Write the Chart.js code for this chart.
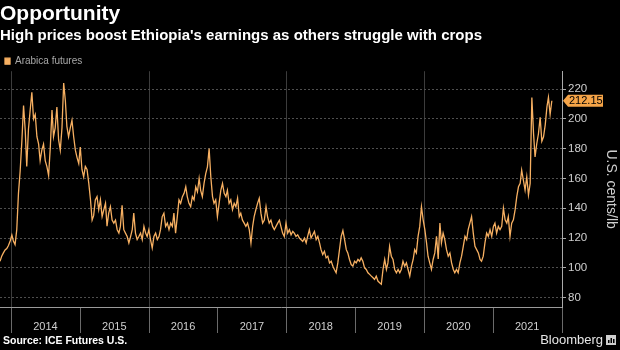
<!DOCTYPE html>
<html>
<head>
<meta charset="utf-8">
<script src="https://cdn.jsdelivr.net/npm/chart.js@4.4.0/dist/chart.umd.min.js"></script>
<style>
  html, body { margin: 0; padding: 0; background: #000; }
  canvas { display: block; }
</style>
</head>
<body>
<canvas id="chart" width="620" height="350"></canvas>
<script>
// sample dates (roughly every 9 days)
const dates = [
  '2013-11-01','2013-11-10','2013-11-19','2013-11-28','2013-12-07','2013-12-16','2013-12-25',
  '2014-01-03','2014-01-11','2014-01-20','2014-01-29','2014-02-07','2014-02-16','2014-02-25','2014-03-06','2014-03-15','2014-03-23',
  '2014-04-01','2014-04-10','2014-04-19','2014-04-28','2014-05-07','2014-05-16','2014-05-25','2014-06-02','2014-06-11','2014-06-20',
  '2014-06-29','2014-07-08','2014-07-17','2014-07-26','2014-08-04','2014-08-12','2014-08-21','2014-08-30','2014-09-08','2014-09-17',
  '2014-09-26','2014-10-05','2014-10-14','2014-10-22','2014-10-31','2014-11-09','2014-11-18','2014-11-27','2014-12-06','2014-12-15','2014-12-24',
  '2015-01-01','2015-01-10','2015-01-19','2015-01-28','2015-02-06','2015-02-15','2015-02-24','2015-03-05','2015-03-13','2015-03-22',
  '2015-03-31','2015-04-09','2015-04-18','2015-04-27','2015-05-06','2015-05-15','2015-05-23','2015-06-01','2015-06-10','2015-06-19',
  '2015-06-28','2015-07-07','2015-07-16','2015-07-25','2015-08-02','2015-08-11','2015-08-20','2015-08-29','2015-09-07','2015-09-16',
  '2015-09-25','2015-10-04','2015-10-12','2015-10-21','2015-10-30','2015-11-08','2015-11-17','2015-11-26','2015-12-05','2015-12-14','2015-12-22','2015-12-31',
  '2016-01-09','2016-01-18','2016-01-27','2016-02-05','2016-02-14','2016-02-23','2016-03-02','2016-03-11','2016-03-20','2016-03-29',
  '2016-04-07','2016-04-16','2016-04-25','2016-05-04','2016-05-12','2016-05-21','2016-05-30','2016-06-08','2016-06-17','2016-06-26',
  '2016-07-05','2016-07-14','2016-07-22','2016-07-31','2016-08-09','2016-08-18','2016-08-27','2016-09-05','2016-09-14','2016-09-23',
  '2016-10-01','2016-10-10','2016-10-19','2016-10-28','2016-11-06','2016-11-15','2016-11-24','2016-12-03','2016-12-11','2016-12-20','2016-12-29',
  '2017-01-07','2017-01-16','2017-01-25','2017-02-03','2017-02-12','2017-02-20','2017-03-01','2017-03-10','2017-03-19','2017-03-28',
  '2017-04-06','2017-04-15','2017-04-24','2017-05-02','2017-05-11','2017-05-20','2017-05-29','2017-06-07','2017-06-16','2017-06-25',
  '2017-07-04','2017-07-12','2017-07-21','2017-07-30','2017-08-08','2017-08-17','2017-08-26','2017-09-04','2017-09-13','2017-09-21',
  '2017-09-30','2017-10-09','2017-10-18','2017-10-27','2017-11-05','2017-11-14','2017-11-23','2017-12-01','2017-12-10','2017-12-19','2017-12-28',
  '2018-01-06','2018-01-15','2018-01-24','2018-02-02','2018-02-10','2018-02-19','2018-02-28','2018-03-09','2018-03-18','2018-03-27',
  '2018-04-05','2018-04-14','2018-04-22','2018-05-01','2018-05-10','2018-05-19','2018-05-28','2018-06-06','2018-06-15','2018-06-24',
  '2018-07-02','2018-07-11','2018-07-20','2018-07-29','2018-08-07','2018-08-16','2018-08-25','2018-09-03','2018-09-11','2018-09-20',
  '2018-09-29','2018-10-08','2018-10-17','2018-10-26','2018-11-04','2018-11-13','2018-11-21','2018-11-30','2018-12-09','2018-12-18','2018-12-27',
  '2019-01-05','2019-01-14','2019-01-23','2019-01-31','2019-02-09','2019-02-18','2019-02-27','2019-03-08','2019-03-17','2019-03-26',
  '2019-04-04','2019-04-12','2019-04-21','2019-04-30','2019-05-09','2019-05-18','2019-05-27','2019-06-05','2019-06-14','2019-06-22',
  '2019-07-01','2019-07-10','2019-07-19','2019-07-28','2019-08-06','2019-08-15','2019-08-24','2019-09-01','2019-09-10','2019-09-19',
  '2019-09-28','2019-10-07','2019-10-16','2019-10-25','2019-11-03','2019-11-11','2019-11-20','2019-11-29','2019-12-08','2019-12-17','2019-12-26',
  '2020-01-04','2020-01-13','2020-01-21','2020-01-30','2020-02-08','2020-02-17','2020-02-26','2020-03-06','2020-03-15','2020-03-24',
  '2020-04-01','2020-04-10','2020-04-19','2020-04-28','2020-05-07','2020-05-16','2020-05-25','2020-06-03','2020-06-11','2020-06-20',
  '2020-06-29','2020-07-08','2020-07-17','2020-07-26','2020-08-04','2020-08-13','2020-08-21','2020-08-30','2020-09-08','2020-09-17',
  '2020-09-26','2020-10-05','2020-10-14','2020-10-23','2020-10-31','2020-11-09','2020-11-18','2020-11-27','2020-12-06','2020-12-15','2020-12-24',
  '2021-01-02','2021-01-10','2021-01-19','2021-01-28','2021-02-06','2021-02-15','2021-02-24','2021-03-05','2021-03-14','2021-03-22',
  '2021-03-31','2021-04-09','2021-04-18','2021-04-27','2021-05-06','2021-05-15','2021-05-24','2021-06-01','2021-06-10','2021-06-19',
  '2021-06-28','2021-07-07','2021-07-16','2021-07-25','2021-08-03','2021-08-11','2021-08-20','2021-08-29','2021-09-07','2021-09-16',
  '2021-09-25','2021-10-04','2021-10-13','2021-10-21','2021-10-30','2021-11-08'
];

// Arabica futures, U.S. cents/lb
const prices = [
  104.4, 107.8, 110, 112, 113, 115, 118, 122, 118, 115.6,
  125.6, 150, 165, 185, 209, 192, 168, 193, 205.6, 217.8,
  200, 203, 188, 183, 172, 179, 183, 172, 168, 162,
  181, 206, 188, 194, 208, 186, 179, 194, 224, 212,
  195, 188, 194, 199, 188, 179, 174, 170, 181, 166,
  161, 168, 166, 157, 146, 132, 135,
  145.6, 147.8, 139, 145.6, 134.4, 139, 143.3, 128, 136.7, 141,
  132, 130, 132, 125.6, 123.3, 127.8, 142, 125.6, 123.3, 121,
  116.7, 121, 125.6, 136.7, 123.3, 119, 121, 123.3, 119, 127.8,
  123.3, 121, 125.6, 119, 113.3, 121, 123.3, 119, 121, 125.6,
  134.4, 136.7, 127.8, 130, 125.6, 130, 127.8, 136.7, 123.3, 134.4,
  145.6, 143.3, 147.8, 150, 154.4, 147.8, 143.3,
  141, 147.8, 145.6, 154.4, 151, 160, 152, 147.8, 156.7, 163.3,
  167.8, 180, 161, 147.8, 143.3, 145.6, 134.4, 143.3, 152, 156.7,
  150, 147.8, 152, 143.3, 145.6, 139, 143.3, 141, 146.7, 134.4,
  136.7, 132, 130, 127.8, 130, 125.6, 116.7, 127.8, 134.4, 139,
  143.3, 146.7, 136.7, 130, 132, 141, 134.4, 130, 132, 127.8,
  125.6, 127.8, 130, 132, 127.8, 123.3, 121,
  130, 123.3, 125.6, 122.2, 124.4, 123.3, 121.1, 122.2, 120, 118.9,
  117.8, 120, 116.7, 121.1, 125.6, 120, 122.2, 124.4, 118.9, 121.1,
  116.7, 112.2, 108.9, 111.1, 106.7, 107.8, 103.3, 104.4, 101.1, 98.9,
  96.7, 103.3, 112.2, 121.1, 125, 119, 112.2, 110, 105.6, 102.2,
  101.1, 104.4, 103.3, 105.6, 104.4, 106.7, 104.4, 100, 98.9, 96.7,
  95.6, 94.4, 93.3, 92.2, 94.4, 91.1, 90,
  89, 98.9, 105.6, 98.9, 103.3, 114.4, 107.8, 105.6, 98.9, 96.7,
  98.9, 96.7, 98.9, 104.4, 101.1, 103.3, 98.9, 94.4, 101.1, 105.6,
  112.2, 110, 121.1, 127.8, 141, 132.2, 125.6, 116.7, 107.8, 103.3,
  98.9, 105.6, 110, 121.1, 106, 130, 116.7, 123.3, 118.9, 112.2,
  107.8, 110, 103.3, 98.9, 96.7, 98.9, 96.7, 103.3, 107.8, 114.4,
  121.1, 118.9, 125.6, 130, 134.4, 123.3, 114.4,
  112.2, 110, 105.6, 104.4, 107.8, 116.7, 123.3, 121.1, 125.6, 121.1,
  127.8, 130, 123.3, 127.8, 125.6, 127.8, 140, 132.2, 130, 134.4,
  121.1, 130, 132.2, 138.9, 147.8, 154.4, 156.7, 165.6, 158.9, 152.2,
  161.1, 148.9, 156.7, 214.4, 190, 174.4, 183.3, 190, 201, 185,
  188, 196, 208, 214.4, 203, 212.15
];

const yearTicks = [2014, 2015, 2016, 2017, 2018, 2019, 2020, 2021, 2022];
const gridYears = [2014, 2016, 2018, 2020];
const priceTicks = [80, 90, 100, 110, 120, 130, 140, 150, 160, 170, 180, 190, 200, 210, 220, 230];

const orange = '#f7b062';
const fontFamily = '"Liberation Sans", Arial, sans-serif';
Chart.defaults.font.family = fontFamily;

const points = dates.map((d, i) => ({ x: Date.parse(d), y: prices[i] }));
const yearOf = v => new Date(v).getUTCFullYear();

// black background, source line, Bloomberg mark and last-value tag
const extras = {
  id: 'extras',
  beforeDraw(chart) {
    const ctx = chart.ctx;
    ctx.save();
    ctx.fillStyle = '#000';
    ctx.fillRect(0, 0, chart.width, chart.height);
    ctx.restore();
  },
  afterDraw(chart) {
    const ctx = chart.ctx;
    const area = chart.chartArea;
    const last = prices[prices.length - 1];
    const yPix = chart.scales.y.getPixelForValue(last);
    ctx.save();
    // last value tag
    const x0 = area.right + 1;
    ctx.fillStyle = '#f5a448';
    ctx.beginPath();
    ctx.moveTo(x0, yPix);
    ctx.lineTo(x0 + 5, yPix - 6);
    ctx.lineTo(603, yPix - 6);
    ctx.lineTo(603, yPix + 6);
    ctx.lineTo(x0 + 5, yPix + 6);
    ctx.closePath();
    ctx.fill();
    ctx.fillStyle = '#000';
    ctx.font = '11px ' + fontFamily;
    ctx.textBaseline = 'middle';
    ctx.textAlign = 'left';
    ctx.fillText(last.toFixed(2), x0 + 6, yPix + 0.5);

    // footer
    ctx.fillStyle = '#fff';
    ctx.font = 'bold 10.5px ' + fontFamily;
    ctx.fillText('Source: ICE Futures U.S.', 3, 341);
    ctx.fillStyle = '#e6e6e6';
    ctx.font = '13px ' + fontFamily;
    ctx.textAlign = 'right';
    ctx.fillText('Bloomberg', 603, 340);
    // little terminal icon
    ctx.fillStyle = '#cfcfcf';
    ctx.fillRect(606, 335, 10, 10);
    ctx.fillStyle = '#000';
    ctx.fillRect(608, 340, 1.5, 3);
    ctx.fillRect(610.5, 338, 1.5, 5);
    ctx.fillRect(613, 339, 1.5, 4);
    ctx.restore();
  }
};

new Chart(document.getElementById('chart'), {
  type: 'line',
  data: {
    datasets: [{
      label: 'Arabica futures',
      data: points,
      borderColor: orange,
      backgroundColor: orange,
      borderWidth: 1.3,
      pointRadius: 0,
      tension: 0
    }]
  },
  options: {
    responsive: false,
    animation: false,
    layout: { padding: 0 },
    scales: {
      x: {
        type: 'linear',
        min: Date.parse('2013-11-01'),
        max: Date.parse('2022-01-01'),
        afterBuildTicks: scale => {
          scale.ticks = yearTicks.map(y => ({ value: Date.UTC(y, 0, 1) }));
        },
        afterFit: scale => { scale.height = 43; },
        grid: {
          color: c => (c.tick && gridYears.includes(yearOf(c.tick.value))) ? '#3c3c3c' : 'rgba(0,0,0,0)',
          tickColor: '#6a6a6a',
          tickLength: 26
        },
        border: { color: '#9a9a9a' },
        ticks: {
          color: '#cfcfcf',
          font: { size: 11 },
          labelOffset: 34,
          padding: -13,
          maxRotation: 0,
          autoSkip: false,
          callback: v => yearOf(v) < 2022 ? String(yearOf(v)) : ''
        }
      },
      y: {
        position: 'right',
        min: 73.7,
        max: 232,
        afterBuildTicks: scale => {
          scale.ticks = priceTicks.map(v => ({ value: v }));
        },
        afterFit: scale => { scale.width = 58; },
        grid: {
          color: c => (c.tick && c.tick.value % 20 === 0) ? '#4e4e4e' : 'rgba(0,0,0,0)',
          tickColor: '#aaa',
          tickLength: 4
        },
        border: { color: '#aaa', dash: [2, 2] },
        ticks: {
          color: '#cfcfcf',
          font: { size: 11.5 },
          padding: 2,
          callback: v => v % 20 === 0 ? String(v) : ''
        },
        title: {
          display: true,
          text: 'U.S. cents/lb',
          color: '#cfcfcf',
          font: { size: 14 },
          padding: { top: 1, bottom: 0 }
        }
      }
    },
    plugins: {
      title: {
        display: true,
        text: 'Opportunity',
        align: 'start',
        color: '#fff',
        font: { size: 21, weight: 'bold' },
        padding: { top: 2, bottom: 0 }
      },
      subtitle: {
        display: true,
        text: "High prices boost Ethiopia's earnings as others struggle with crops",
        align: 'start',
        color: '#fff',
        font: { size: 15, weight: 'bold' },
        padding: { top: 0, bottom: 6 }
      },
      legend: {
        display: true,
        position: 'top',
        align: 'start',
        maxHeight: 20,
        labels: {
          boxWidth: 5,
          boxHeight: 6,
          padding: 5,
          color: '#a8a8a8',
          font: { size: 10 }
        }
      },
      tooltip: { enabled: false }
    }
  },
  plugins: [extras]
});
</script>
</body>
</html>
